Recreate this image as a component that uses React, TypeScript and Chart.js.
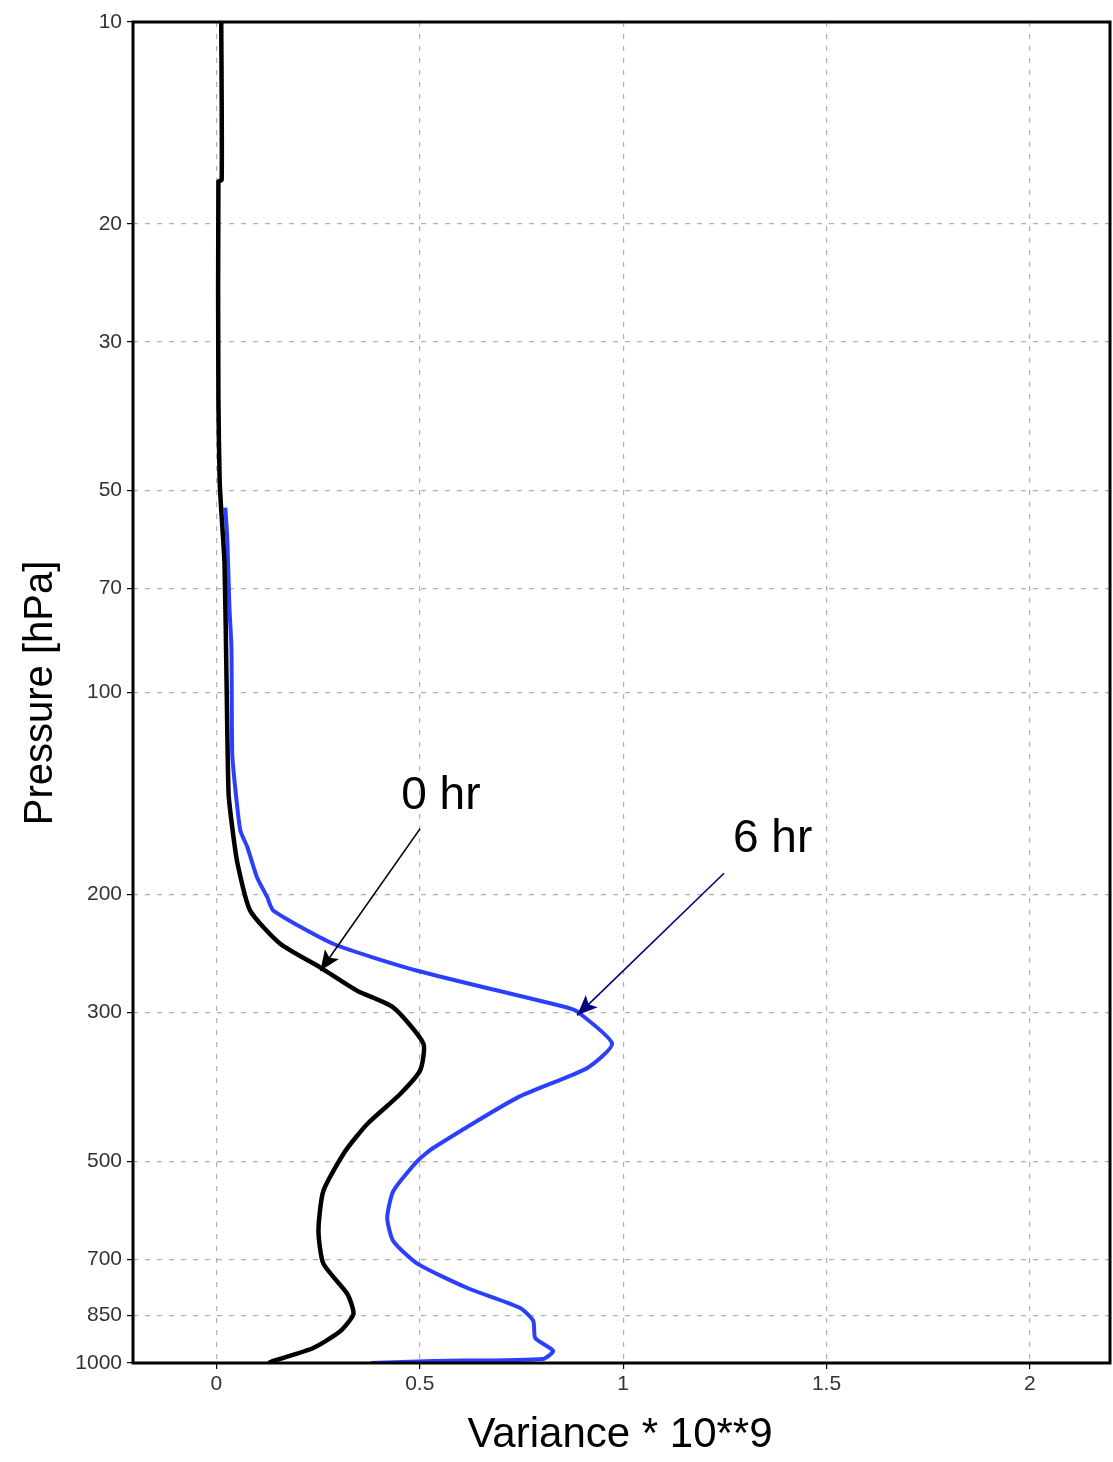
import React, { useEffect, useRef } from "react";
import { Chart, registerables } from "chart.js";

Chart.register(...registerables);

const pressureTicks = [10, 20, 30, 50, 70, 100, 200, 300, 500, 700, 850, 1000];
const varianceTicks = [0, 0.5, 1, 1.5, 2];

const hr0Pressure = [10, 17.2, 17.3, 36.6, 48.3, 53.5, 64.2, 96, 141.5, 160.7, 180, 211.5, 237, 257, 278.5, 295, 334, 366, 397, 440, 483, 554, 635, 711, 789, 845, 896, 950, 993, 1000];
const hr0Variance = [0.012, 0.013, 0.005, 0.005, 0.008, 0.012, 0.02, 0.025, 0.03, 0.04, 0.052, 0.083, 0.157, 0.255, 0.346, 0.435, 0.509, 0.501, 0.452, 0.371, 0.317, 0.263, 0.251, 0.263, 0.322, 0.337, 0.305, 0.238, 0.14, 0.128];

const hr6Pressure = [53, 59.3, 74.6, 85.7, 123.3, 140, 160.7, 170, 188.8, 202, 211.5, 237, 260, 295, 300, 334, 363, 402, 478, 500, 554, 608, 658, 711, 773, 828, 865, 918, 959, 986, 993, 1000];
const hr6Variance = [0.022, 0.027, 0.032, 0.037, 0.039, 0.047, 0.059, 0.076, 0.1, 0.125, 0.14, 0.287, 0.494, 0.862, 0.89, 0.973, 0.912, 0.74, 0.533, 0.494, 0.435, 0.42, 0.435, 0.494, 0.617, 0.747, 0.779, 0.784, 0.828, 0.803, 0.533, 0.38];

const seriesLabels = ["0 hr", "6 hr"];
const seriesColors = ["#000000", "#2b40ff"];
const arrowColors = ["#000000", "#000080"];
// annotation text anchor (x, p) and arrow start/end in data coords
const labelPos = [[0.4545, 149], [1.27, 173]];
const arrowFrom = [[0.501, 159.6], [1.248, 186]];
const arrowTo = [[0.2555, 260], [0.887, 303]];

const xTitle = "Variance * 10**9";
const yTitle = "Pressure [hPa]";

const toPoints = (xs: number[], ps: number[]) => xs.map((x, i) => ({ x, y: ps[i] }));

const overlay = {
  id: "overlay",
  afterDraw(chart: any) {
    const { ctx, chartArea: a, scales } = chart;
    const xs = scales.x, ys = scales.y;
    ctx.save();
    // frame
    ctx.strokeStyle = "#000";
    ctx.lineWidth = 3;
    ctx.strokeRect(a.left, a.top, a.right - a.left, a.bottom - a.top);
    // titles
    ctx.fillStyle = "#000";
    ctx.font = "42px 'Liberation Sans', Arial, sans-serif";
    ctx.textAlign = "center";
    ctx.textBaseline = "alphabetic";
    ctx.fillText(xTitle, 620, 1447);
    ctx.save();
    ctx.translate(52, 693);
    ctx.rotate(-Math.PI / 2);
    ctx.font = "40px 'Liberation Sans', Arial, sans-serif";
    ctx.fillText(yTitle, 0, 0);
    ctx.restore();
    // annotations
    for (let i = 0; i < seriesLabels.length; i++) {
      ctx.fillStyle = "#000";
      ctx.font = "46px 'Liberation Sans', Arial, sans-serif";
      ctx.textAlign = "left";
      ctx.fillText(seriesLabels[i], xs.getPixelForValue(labelPos[i][0]), ys.getPixelForValue(labelPos[i][1]));
      const x1 = xs.getPixelForValue(arrowFrom[i][0]);
      const y1 = ys.getPixelForValue(arrowFrom[i][1]);
      const x2 = xs.getPixelForValue(arrowTo[i][0]);
      const y2 = ys.getPixelForValue(arrowTo[i][1]);
      ctx.strokeStyle = arrowColors[i];
      ctx.fillStyle = arrowColors[i];
      ctx.lineWidth = 1.6;
      ctx.beginPath();
      ctx.moveTo(x1, y1);
      ctx.lineTo(x2, y2);
      ctx.stroke();
      const ang = Math.atan2(y2 - y1, x2 - x1);
      const len = 22, half = 0.4;
      ctx.beginPath();
      ctx.moveTo(x2, y2);
      ctx.lineTo(x2 - len * Math.cos(ang - half), y2 - len * Math.sin(ang - half));
      ctx.lineTo(x2 - len * 0.72 * Math.cos(ang), y2 - len * 0.72 * Math.sin(ang));
      ctx.lineTo(x2 - len * Math.cos(ang + half), y2 - len * Math.sin(ang + half));
      ctx.closePath();
      ctx.fill();
    }
    ctx.restore();
  },
};

const tickFont = { family: "'Liberation Sans', Arial, sans-serif", size: 21 };

export default function App() {
  const ref = useRef<HTMLCanvasElement>(null);
  useEffect(() => {
    const chart = new Chart(ref.current as HTMLCanvasElement, {
      type: "scatter",
      data: {
        datasets: [
          {
            label: seriesLabels[0],
            data: toPoints(hr0Variance, hr0Pressure),
            showLine: true,
            borderColor: seriesColors[0],
            backgroundColor: seriesColors[0],
            borderWidth: 4.5,
            pointRadius: 0,
            tension: 0.2,
          },
          {
            label: seriesLabels[1],
            data: toPoints(hr6Variance, hr6Pressure),
            showLine: true,
            borderColor: seriesColors[1],
            backgroundColor: seriesColors[1],
            borderWidth: 4,
            pointRadius: 0,
            tension: 0.2,
          },
        ],
      },
      options: {
        animation: false,
        responsive: false,
        layout: { padding: { top: 22, right: 3, left: 0, bottom: 0 } },
        plugins: { legend: { display: false }, tooltip: { enabled: false } },
        scales: {
          x: {
            type: "linear",
            min: -0.205,
            max: 2.197,
            afterBuildTicks: (s: any) => {
              s.ticks = varianceTicks.map((v) => ({ value: v }));
            },
            afterFit: (s: any) => {
              s.height = 99;
            },
            ticks: {
              font: tickFont,
              color: "#333",
              padding: 3,
              maxRotation: 0,
              callback: (v: any) => String(v),
            },
            grid: { color: "#b0b0b0", lineWidth: 1.2, tickLength: 6, tickColor: "#000" },
            border: { display: false, dash: [5, 7] },
          },
          y: {
            type: "logarithmic",
            reverse: true,
            min: 10,
            max: 1000,
            afterBuildTicks: (s: any) => {
              s.ticks = pressureTicks.map((v) => ({ value: v }));
            },
            afterFit: (s: any) => {
              s.width = 133;
            },
            ticks: {
              font: tickFont,
              color: "#333",
              padding: 5,
              autoSkip: false,
              callback: (v: any) => String(v),
            },
            grid: { color: "#b0b0b0", lineWidth: 1.2, tickLength: 6, tickColor: "#000" },
            border: { display: false, dash: [5, 7] },
          },
        },
      },
      plugins: [overlay],
    });
    return () => chart.destroy();
  }, []);
  return (
    <div style={{ position: "absolute", left: 0, top: 0, width: 1113, height: 1462, background: "#fff" }}>
      <canvas ref={ref} width={1113} height={1462} style={{ display: "block" }} />
    </div>
  );
}
